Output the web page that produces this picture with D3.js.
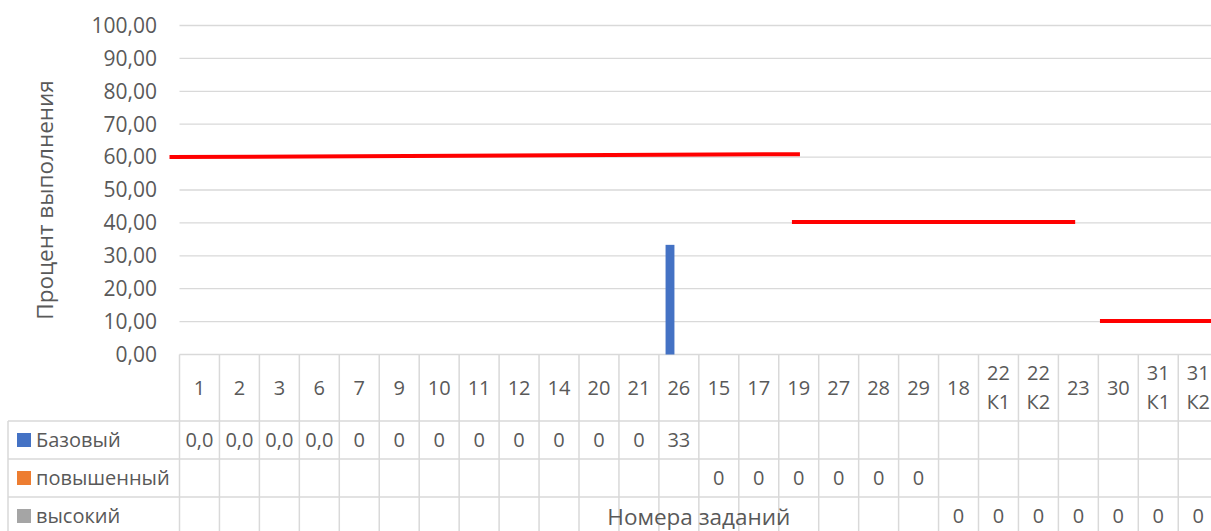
<!DOCTYPE html>
<html>
<head>
<meta charset="utf-8">
<script src="https://cdn.jsdelivr.net/npm/d3@7"></script>
<style>
  body { margin: 0; background: #fff; overflow: hidden; }
  text { font-family: "Open Sans", sans-serif; fill: #595959; }
</style>
</head>
<body>
<div id="canvas"></div>
<script>
// task numbers (two-line labels split on \n)
const categories = ["1","2","3","6","7","9","10","11","12","14","20","21","26",
  "15","17","19","27","28","29","18","22\nК1","22\nК2","23","30","31\nК1","31\nК2"];

const seriesNames = ["Базовый", "повышенный", "высокий"];
const seriesColors = ["#4472C4", "#ED7D31", "#A5A5A5"];

const baseValues = [0,0,0,0,0,0,0,0,0,0,0,0,33.33,
  null,null,null,null,null,null,null,null,null,null,null,null,null];
const midValues = [null,null,null,null,null,null,null,null,null,null,null,null,null,
  0,0,0,0,0,0,null,null,null,null,null,null,null];
const highValues = [null,null,null,null,null,null,null,null,null,null,null,null,null,
  null,null,null,null,null,null,0,0,0,0,0,0,0];

// labels as shown in the data table
const baseLabels = ["0,0","0,0","0,0","0,0","0","0","0","0","0","0","0","0","33",
  "","","","","","","","","","","","",""];
const midLabels = ["","","","","","","","","","","","","",
  "0","0","0","0","0","0","","","","","","",""];
const highLabels = ["","","","","","","","","","","","","",
  "","","","","","","0","0","0","0","0","0","0"];

const yTicks = [0,10,20,30,40,50,60,70,80,90,100];

// threshold lines: start/end in category units, level at each end
const thresholds = [
  { from: -0.25, to: 15.53, v0: 60, v1: 60.9 },
  { from: 15.33, to: 22.42, v0: 40.3, v1: 40.3 },
  { from: 23.04, to: 26.5, v0: 10.2, v1: 10.2 }
];

const width = 1211;
const height = 531;
const left = 179.5;
const colW = 39.95;
const right = left + colW * categories.length;
const plotTop = 25.5;
const axisY = 354.5;
const rowLines = [421, 459, 497, 535];
const gridColor = "#d9d9d9";

const ru = d3.formatLocale({ decimal: ",", thousands: " ", grouping: [3], currency: ["", ""] });
const fmt = ru.format(".2f");

const svg = d3.select("#canvas").append("svg")
  .attr("width", width)
  .attr("height", height);

const y = d3.scaleLinear().domain([0, 100]).range([axisY, plotTop]);

const x = d3.scaleBand()
  .domain(d3.range(categories.length))
  .range([left, right])
  .paddingInner(0);

// category units -> px for the threshold lines
const xc = d3.scaleLinear().domain([0, categories.length]).range([left, right]);

// clustered bars: gap width 150%
const x1 = d3.scaleBand()
  .domain(d3.range(seriesNames.length))
  .range([0, x.bandwidth()])
  .paddingOuter(0.75)
  .paddingInner(0);

// gridlines
svg.append("g")
  .selectAll("line")
  .data(yTicks)
  .join("line")
  .attr("x1", left)
  .attr("x2", right)
  .attr("y1", d => y(d))
  .attr("y2", d => y(d))
  .attr("stroke", gridColor)
  .attr("stroke-width", 1.3);

// y axis labels
svg.append("g")
  .selectAll("text")
  .data(yTicks)
  .join("text")
  .attr("x", 157)
  .attr("y", d => y(d))
  .attr("dy", "0.35em")
  .attr("text-anchor", "end")
  .style("font-size", "21px")
  .text(d => fmt(d));

svg.append("text")
  .attr("transform", "translate(53,200) rotate(-90)")
  .attr("text-anchor", "middle")
  .style("font-size", "22.5px")
  .text("Процент выполнения");

// bars
const allValues = [baseValues, midValues, highValues];
allValues.forEach((vals, si) => {
  svg.append("g")
    .selectAll("rect")
    .data(vals.map((v, i) => ({ v, i })).filter(d => d.v !== null && d.v > 0))
    .join("rect")
    .attr("x", d => x(d.i) + x1(si))
    .attr("width", x1.bandwidth())
    .attr("y", d => y(d.v))
    .attr("height", d => y(0) - y(d.v))
    .attr("fill", seriesColors[si]);
});

// threshold lines
svg.append("g")
  .selectAll("line")
  .data(thresholds)
  .join("line")
  .attr("x1", d => xc(d.from))
  .attr("x2", d => xc(d.to))
  .attr("y1", d => y(d.v0))
  .attr("y2", d => y(d.v1))
  .attr("stroke", "#FF0000")
  .attr("stroke-width", 4);

// data table
const table = svg.append("g");

// vertical lines at category boundaries
table.selectAll("line.v")
  .data(d3.range(categories.length + 1))
  .join("line")
  .attr("class", "v")
  .attr("x1", d => left + d * colW)
  .attr("x2", d => left + d * colW)
  .attr("y1", axisY)
  .attr("y2", height + 10)
  .attr("stroke", gridColor)
  .attr("stroke-width", 1.5);

table.append("line")
  .attr("x1", 8).attr("x2", 8)
  .attr("y1", rowLines[0]).attr("y2", height + 10)
  .attr("stroke", gridColor).attr("stroke-width", 1.5);

table.selectAll("line.h")
  .data(rowLines)
  .join("line")
  .attr("class", "h")
  .attr("x1", 8)
  .attr("x2", right)
  .attr("y1", d => d)
  .attr("y2", d => d)
  .attr("stroke", gridColor)
  .attr("stroke-width", 1.5);

// category labels
const cat = table.selectAll("text.cat")
  .data(categories)
  .join("text")
  .attr("class", "cat")
  .attr("text-anchor", "middle")
  .style("font-size", "20px")
  .attr("x", (d, i) => x(i) + x.bandwidth() / 2)
  .attr("y", (axisY + rowLines[0]) / 2);

cat.each(function(d) {
  const parts = d.split("\n");
  const t = d3.select(this);
  parts.forEach((p, k) => {
    t.append("tspan")
      .attr("x", t.attr("x"))
      .attr("dy", k === 0 ? (0.35 - (parts.length - 1) * 0.72) + "em" : "1.44em")
      .text(p);
  });
});

// rows
const allLabels = [baseLabels, midLabels, highLabels];
allLabels.forEach((labels, si) => {
  const cy = (rowLines[si] + rowLines[si + 1]) / 2;
  table.append("rect")
    .attr("x", 17)
    .attr("y", cy - 7)
    .attr("width", 14)
    .attr("height", 14)
    .attr("fill", seriesColors[si]);
  table.append("text")
    .attr("x", 36)
    .attr("y", cy)
    .attr("dy", "0.35em")
    .style("font-size", "20px")
    .text(seriesNames[si]);
  table.append("g")
    .selectAll("text")
    .data(labels)
    .join("text")
    .attr("x", (d, i) => x(i) + x.bandwidth() / 2)
    .attr("y", cy)
    .attr("dy", "0.35em")
    .attr("text-anchor", "middle")
    .style("font-size", "20px")
    .text(d => d);
});

// x axis title (overlaps the table as in the source)
svg.append("text")
  .attr("x", (left + right) / 2)
  .attr("y", 525)
  .attr("text-anchor", "middle")
  .style("font-size", "22.5px")
  .text("Номера заданий");
</script>
</body>
</html>
